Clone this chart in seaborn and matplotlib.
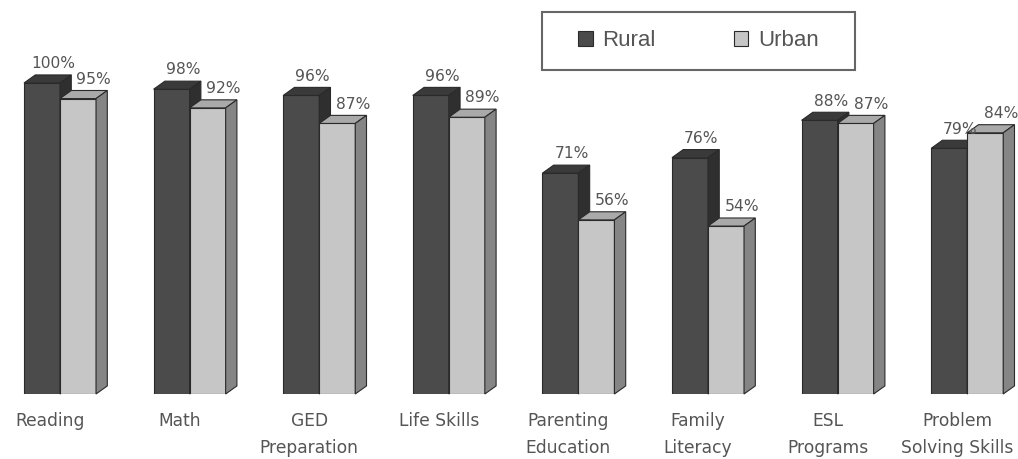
import matplotlib
matplotlib.use("Agg")
import matplotlib.pyplot as plt
import matplotlib.transforms as mtransforms
from matplotlib.patches import Polygon, Patch, Rectangle
import numpy as np
import pandas as pd
import seaborn as sns

# ---- data -------------------------------------------------------------
programs = ["Reading", "Math", "GED\nPreparation", "Life Skills",
            "Parenting\nEducation", "Family\nLiteracy", "ESL\nPrograms",
            "Problem\nSolving Skills"]
rural = [100, 98, 96, 96, 71, 76, 88, 79]
urban = [95, 92, 87, 89, 56, 54, 87, 84]
series = ["Rural", "Urban"]

df = pd.DataFrame({
    "program": programs * 2,
    "pct": rural + urban,
    "area": ["Rural"] * len(programs) + ["Urban"] * len(programs),
})

# ---- styling ----------------------------------------------------------
sns.set_theme(style="white")
plt.rcParams["font.family"] = ["DejaVu Sans"]

front = {"Rural": "#4b4b4b", "Urban": "#c6c6c6"}
top = {"Rural": "#3a3a3a", "Urban": "#a9a9a9"}
side = {"Rural": "#2f2f2f", "Urban": "#858585"}
edge = "#2a2a2a"
text_col = "#555555"

W, H = 1018, 459
fig = plt.figure(figsize=(W / 100, H / 100), dpi=100)
fig.patch.set_facecolor("white")
ax = fig.add_axes([0, 65 / H, 1, 1 - 65 / H])

sns.barplot(data=df, x="program", y="pct", hue="area", order=programs,
            hue_order=series, palette=[front[s] for s in series],
            width=0.556, saturation=1, edgecolor=edge, linewidth=0.8,
            legend=False, ax=ax)

ax.set_xlim(-0.463, 7.392)
ax.set_ylim(0, 126.7)

# depth of the extruded bars, in data units
dx, dy = 0.087, 2.6

for k, (name, container) in enumerate(zip(series, ax.containers)):
    z = 2 + k
    vals = rural if name == "Rural" else urban
    for bar, v in zip(container.patches, vals):
        bar.set_zorder(z)
        x0 = bar.get_x()
        x1 = x0 + bar.get_width()
        h = bar.get_height()
        ax.add_patch(Polygon([(x0, h), (x1, h), (x1 + dx, h + dy), (x0 + dx, h + dy)],
                             closed=True, facecolor=top[name], edgecolor=edge,
                             linewidth=0.8, zorder=z + 0.1, clip_on=False))
        ax.add_patch(Polygon([(x1, 0), (x1, h), (x1 + dx, h + dy), (x1 + dx, dy)],
                             closed=True, facecolor=side[name], edgecolor=edge,
                             linewidth=0.8, zorder=z + 0.1, clip_on=False))
        shift = dx if name == "Rural" else 0.12
        ax.text(x0 + bar.get_width() / 2 + shift, h + dy + 3.6, f"{v}%",
                ha="center", va="center", fontsize=11.2, color=text_col,
                family=["Liberation Sans Narrow", "DejaVu Sans"], zorder=10)

# category labels
ax.set_xticks(range(len(programs)))
ax.set_xticklabels(programs, fontsize=12.3, color=text_col, linespacing=1.65)
ax.tick_params(axis="x", length=0, pad=13)
shift_lbl = mtransforms.ScaledTranslation(-10 / 100, 0, fig.dpi_scale_trans)
for lbl in ax.get_xticklabels():
    lbl.set_transform(lbl.get_transform() + shift_lbl)
    lbl.set_verticalalignment("top")
ax.set_yticks([])
ax.set_xlabel("")
ax.set_ylabel("")
for s in ax.spines.values():
    s.set_visible(False)

# legend: entries without frame, boxed by a rectangle in figure pixels
handles = [Patch(facecolor=front[s], edgecolor=edge, linewidth=0.8, label=s)
           for s in series]
leg = fig.legend(handles=handles, loc="center", ncol=2,
                 bbox_to_anchor=((542 + 855) / 2 / W, 1 - 41 / H),
                 fontsize=16, frameon=False,
                 handlelength=0.65, handleheight=0.65, handletextpad=0.45,
                 columnspacing=3.5, borderpad=0.9)
for t in leg.get_texts():
    t.set_color(text_col)
    t.set_family(["Liberation Sans", "DejaVu Sans"])
fig.add_artist(Rectangle((542 / W, 1 - 70 / H), (855 - 542) / W, 58 / H,
                         transform=fig.transFigure, facecolor="none",
                         edgecolor="#666666", linewidth=1.5))

fig.savefig("out.png", dpi=100, facecolor="white")
